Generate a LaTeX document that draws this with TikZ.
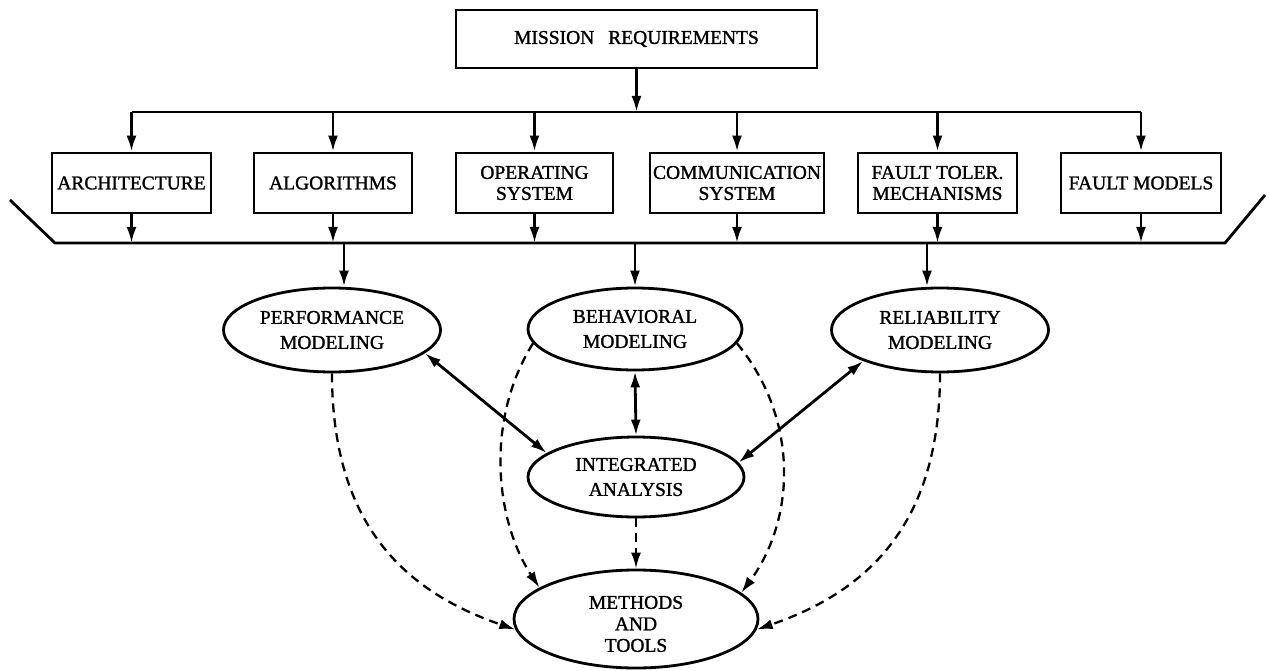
\documentclass[tikz,border=0pt]{standalone}
\usepackage{fontspec}
\setmainfont{Liberation Serif}[FakeBold=1.3]
\usetikzlibrary{shapes.geometric,arrows.meta}
\begin{document}
\begin{tikzpicture}[x=1pt,y=-1pt,
  every node/.style={font=\fontsize{19.5}{21}\selectfont},
  box/.style={draw,line width=2.8pt,minimum height=60pt,inner sep=0pt,align=center},
  oval/.style={draw,ellipse,line width=2.8pt,inner sep=0pt,align=center,
               font=\fontsize{19.5}{25}\selectfont},
  arr/.style={line width=2.8pt,-{Latex[length=16pt,width=10pt]}},
  dbl/.style={line width=2.8pt,{Latex[length=16pt,width=10pt]}-{Latex[length=16pt,width=10pt]}},
  dsh/.style={line width=2.3pt,dash pattern=on 9pt off 6pt,-{Latex[length=16pt,width=10pt]}},
  bus/.style={line width=2.8pt}
]
\useasboundingbox (0,0) rectangle (1269,671);

% top requirement box
\node[box,minimum width=361pt,minimum height=58pt] (mission) at (636.5,39)
  {MISSION\hspace{14pt}REQUIREMENTS};

% design aspects
\node[box,minimum width=159pt] (arch) at (131.5,183) {ARCHITECTURE};
\node[box,minimum width=158pt] (algo) at (333,183) {ALGORITHMS};
\node[box,minimum width=157pt] (os)   at (534.5,183) {OPERATING\\SYSTEM};
\node[box,minimum width=174pt] (comm) at (737,183) {COMMUNICATION\\SYSTEM};
\node[box,minimum width=159pt] (ftm)  at (937.5,183) {FAULT TOLER.\\MECHANISMS};
\node[box,minimum width=160pt] (fm)   at (1141,183) {FAULT MODELS};

% modeling ellipses
\node[oval,minimum width=217pt,minimum height=84pt] (perf)  at (332,330) {PERFORMANCE\\MODELING};
\node[oval,minimum width=214pt,minimum height=82pt] (behav) at (635,329) {BEHAVIORAL\\MODELING};
\node[oval,minimum width=217pt,minimum height=84pt] (rel)   at (940,330) {RELIABILITY\\MODELING};
\node[oval,minimum width=216pt,minimum height=80pt] (integ) at (636,477) {INTEGRATED\\ANALYSIS};
\node[oval,minimum width=244pt,minimum height=98pt,font=\fontsize{19.5}{21.5}\selectfont] (meth) at (636,619)
  {\raisebox{-7pt}[\height][\depth]{\begin{tabular}{@{}c@{}}METHODS\\AND\\TOOLS\end{tabular}}};

% upper distribution bus
\coordinate (tb) at (635,112);
\draw[bus] (arch.north |- tb) -- (fm.north |- tb);
\draw[arr] (mission.south) -- (mission.south |- tb);
\foreach \n in {arch,algo,os,comm,ftm,fm}
  \draw[arr] (\n.north |- tb) -- (\n.north);

% lower collecting bus
\coordinate (lbL) at (10,200);
\coordinate (lb1) at (55,243);
\coordinate (lb2) at (1225,243);
\coordinate (lbR) at (1265,195);
\draw[bus] (lbL) -- (lb1) -- (lb2) -- (lbR);
\foreach \n in {arch,algo,os,comm,ftm,fm}
  \draw[arr] (\n.south) -- (\n.south |- lb1);

% feeds into the modeling ellipses
\coordinate (fp) at (344,243);
\coordinate (fb) at (635,243);
\coordinate (fr) at (927,243);
\draw[arr] (fp) -- (perf.north -| fp);
\draw[arr] (fb) -- (behav.north);
\draw[arr] (fr) -- (rel.north -| fr);

% integration links
\draw[dbl] (perf.-14) -- (integ.165);
\draw[dbl] (behav.south) -- (integ.north);
\draw[dbl] (rel.-158) -- (integ.8);

% dashed links to methods and tools
\draw[dsh] (perf.south) .. controls (332,520) and (400,590) .. (meth.185);
\draw[dsh] (behav.188) .. controls (485,420) and (495,520) .. (meth.162);
\draw[dsh] (behav.-8) .. controls (800,420) and (795,520) .. (meth.14);
\draw[dsh] (rel.south) .. controls (940,520) and (872,590) .. (meth.-5);
\draw[dsh] (integ.south) -- (meth.north);
\end{tikzpicture}
\end{document}
